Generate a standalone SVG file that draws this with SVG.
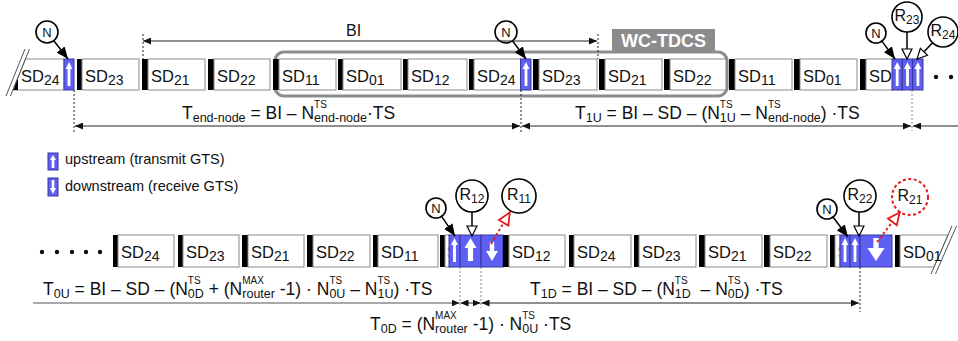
<svg xmlns="http://www.w3.org/2000/svg" width="958" height="341" viewBox="0 0 958 341">
<style>
text{font-family:"Liberation Sans",Arial,sans-serif;fill:#111}
.box{fill:#fff;stroke:#8a8a8a;stroke-width:1}
.bar{fill:#000}
.gts{fill:#5f5ff4;stroke:#36369c;stroke-width:1}
.wa{fill:#fff}
.sd{font-size:16.5px}
.ss{font-size:14px}
.eq{font-size:17.5px}
.sb{font-size:12.5px}
.sp{font-size:10px}
.lg{font-size:14.5px}
.circ{fill:#fff;stroke:#000;stroke-width:1.6}
.nt{font-size:13px;text-anchor:middle}
.rt{font-size:16px;text-anchor:middle}
.dim{stroke:#222;stroke-width:1;fill:none}
.dimg{stroke:#8c8c8c;stroke-width:1.6;fill:none}
.ext{stroke:#222;stroke-width:1;stroke-dasharray:2 2;fill:none}
.extg{stroke:#888;stroke-width:1;stroke-dasharray:2 2;fill:none}
.con{stroke:#000;stroke-width:1.5;fill:none}
.red{stroke:#e21b1b;stroke-width:2;stroke-dasharray:2.5 2.5;fill:none}
.slash{stroke:#555;stroke-width:1;fill:none}
</style>
<defs>
<marker id="dh" viewBox="0 0 8 7" refX="8" refY="3.5" markerWidth="8" markerHeight="7" markerUnits="userSpaceOnUse" orient="auto-start-reverse"><path d="M0,0L8,3.5L0,7z" fill="#111"/></marker>
<marker id="nh" viewBox="0 0 12 10" refX="12" refY="5" markerWidth="12" markerHeight="10" markerUnits="userSpaceOnUse" orient="auto"><path d="M0,0L12,5L0,10z" fill="#000"/></marker>
<marker id="oh" viewBox="0 0 12 12" refX="11" refY="6" markerWidth="12" markerHeight="12" markerUnits="userSpaceOnUse" orient="auto"><path d="M1,1L11,6L1,11z" fill="#fff" stroke="#000" stroke-width="1.2"/></marker>
<marker id="rh" viewBox="0 0 15 14" refX="14" refY="7" markerWidth="15" markerHeight="14" markerUnits="userSpaceOnUse" orient="auto"><path d="M1.5,1.5L13.5,7L1.5,12.5z" fill="#fff" stroke="#e21b1b" stroke-width="1.8"/></marker>
<path id="upT" class="wa" d="M0,0L3.5,7L1.4,7L1.4,24L-1.4,24L-1.4,7L-3.5,7Z"/>
<path id="upS" class="wa" d="M0,0L3,5L1.3,5L1.3,13L-1.3,13L-1.3,5L-3,5Z"/>
<path id="downS" class="wa" d="M-1.3,0L1.3,0L1.3,8L3,8L0,14L-3,8L-1.3,8Z"/>
<path id="upB" class="wa" d="M0,0L6,10L2.6,10L2.6,23L-2.6,23L-2.6,10L-6,10Z"/>
<path id="downM" class="wa" d="M-2.2,0L2.2,0L2.2,9L6,9L0,19L-6,9L-2.2,9Z"/>
<path id="downL" class="wa" d="M-2.6,0L2.6,0L2.6,10L8.5,10L0,23L-8.5,10L-2.6,10Z"/>
</defs>

<!-- WC-TDCS frame -->
<g id="wc-tdcs">
<rect x="275" y="52" width="452" height="44" rx="9" fill="none" stroke="#8c8c8c" stroke-width="3.2"/>
<rect x="612" y="29" width="103" height="24" fill="#8c8c8c"/>
<text x="663.5" y="47" font-size="18" font-weight="bold" text-anchor="middle" style="fill:#fff">WC-TDCS</text>
</g>

<!-- top row -->
<g id="top-row">
<g id="t-sd24a">
<polygon class="box" points="25.4,59 64,59 64,90 13,90"/>
<polygon class="bar" points="13,90 18,90 18,77.5"/>
<line class="slash" x1="25" y1="49" x2="6" y2="96"/>
<line class="slash" x1="29.5" y1="49" x2="10.5" y2="96"/>
<text class="sd" x="21" y="82">SD<tspan class="ss" dy="2.5">24</tspan></text>
</g>
<g id="t-gts1"><rect class="gts" x="64" y="59" width="10" height="31"/><use href="#upT" x="69" y="62"/></g>
<g id="t-sd23a"><rect class="bar" x="77" y="59" width="5" height="31"/><rect class="box" x="82" y="59" width="57" height="31"/><text class="sd" x="85" y="82">SD<tspan class="ss" dy="2.5">23</tspan></text></g>
<g id="t-sd21a"><rect class="bar" x="142" y="59" width="6" height="31"/><rect class="box" x="148" y="59" width="57" height="31"/><text class="sd" x="151" y="82">SD<tspan class="ss" dy="2.5">21</tspan></text></g>
<g id="t-sd22a"><rect class="bar" x="208" y="59" width="6" height="31"/><rect class="box" x="214" y="59" width="56" height="31"/><text class="sd" x="217" y="82">SD<tspan class="ss" dy="2.5">22</tspan></text></g>
<g id="t-sd11a"><rect class="bar" x="273" y="59" width="6" height="31"/><rect class="box" x="279" y="59" width="57" height="31"/><text class="sd" x="282" y="82">SD<tspan class="ss" dy="2.5">11</tspan></text></g>
<g id="t-sd01a"><rect class="bar" x="338" y="59" width="5" height="31"/><rect class="box" x="343" y="59" width="58" height="31"/><text class="sd" x="346" y="82">SD<tspan class="ss" dy="2.5">01</tspan></text></g>
<g id="t-sd12a"><rect class="bar" x="403" y="59" width="5" height="31"/><rect class="box" x="408" y="59" width="59" height="31"/><text class="sd" x="411" y="82">SD<tspan class="ss" dy="2.5">12</tspan></text></g>
<g id="t-sd24b"><rect class="bar" x="469" y="59" width="5" height="31"/><rect class="box" x="474" y="59" width="46.5" height="31"/><text class="sd" x="477" y="82">SD<tspan class="ss" dy="2.5">24</tspan></text></g>
<g id="t-gts2"><rect class="gts" x="520.5" y="59" width="10.5" height="31"/><use href="#upT" x="526" y="62"/></g>
<g id="t-sd23b"><rect class="bar" x="533" y="59" width="6" height="31"/><rect class="box" x="539" y="59" width="58" height="31"/><text class="sd" x="542" y="82">SD<tspan class="ss" dy="2.5">23</tspan></text></g>
<g id="t-sd21b"><rect class="bar" x="599" y="59" width="6" height="31"/><rect class="box" x="605" y="59" width="57" height="31"/><text class="sd" x="608" y="82">SD<tspan class="ss" dy="2.5">21</tspan></text></g>
<g id="t-sd22b"><rect class="bar" x="664" y="59" width="6" height="31"/><rect class="box" x="670" y="59" width="56" height="31"/><text class="sd" x="673" y="82">SD<tspan class="ss" dy="2.5">22</tspan></text></g>
<g id="t-sd11b"><rect class="bar" x="729" y="59" width="6" height="31"/><rect class="box" x="735" y="59" width="57" height="31"/><text class="sd" x="738" y="82">SD<tspan class="ss" dy="2.5">11</tspan></text></g>
<g id="t-sd01b"><rect class="bar" x="794" y="59" width="6" height="31"/><rect class="box" x="800" y="59" width="57" height="31"/><text class="sd" x="803" y="82">SD<tspan class="ss" dy="2.5">01</tspan></text></g>
<g id="t-sdc"><rect class="bar" x="860" y="59" width="6" height="31"/><rect class="box" x="866" y="59" width="27" height="31"/><text class="sd" x="869" y="82">SD</text></g>
<g id="t-gts3">
<rect class="gts" x="892" y="59" width="10.3" height="31"/><rect class="gts" x="902.3" y="59" width="10.4" height="31"/><rect class="gts" x="912.7" y="59" width="10.3" height="31"/>
<use href="#upT" x="897.2" y="62"/><use href="#upT" x="907.5" y="62"/><use href="#upT" x="917.9" y="62"/>
</g>
<g id="t-more"><circle cx="936" cy="77" r="2.2" fill="#111"/><circle cx="951" cy="77" r="2.2" fill="#111"/></g>
</g>

<!-- legend -->
<g id="legend">
<g id="legend-up"><rect class="gts" x="48" y="153" width="10" height="17"/><use href="#upS" x="53" y="155"/><text class="lg" x="65" y="164">upstream (transmit GTS)</text></g>
<g id="legend-down"><rect class="gts" x="48" y="178" width="10" height="18"/><use href="#downS" x="53" y="180"/><text class="lg" x="65" y="191">downstream (receive GTS)</text></g>
</g>

<!-- bottom row -->
<g id="bottom-row">
<g id="b-more"><circle cx="42" cy="252" r="2.2" fill="#111"/><circle cx="57" cy="252" r="2.2" fill="#111"/><circle cx="72" cy="252" r="2.2" fill="#111"/><circle cx="86" cy="252" r="2.2" fill="#111"/><circle cx="100" cy="252" r="2.2" fill="#111"/></g>
<g id="b-sd24a"><rect class="bar" x="113" y="235" width="5" height="32"/><rect class="box" x="118" y="235" width="56" height="32"/><text class="sd" x="121" y="258">SD<tspan class="ss" dy="2.5">24</tspan></text></g>
<g id="b-sd23a"><rect class="bar" x="178" y="235" width="5" height="32"/><rect class="box" x="183" y="235" width="56" height="32"/><text class="sd" x="186" y="258">SD<tspan class="ss" dy="2.5">23</tspan></text></g>
<g id="b-sd21a"><rect class="bar" x="242" y="235" width="6" height="32"/><rect class="box" x="248" y="235" width="56" height="32"/><text class="sd" x="251" y="258">SD<tspan class="ss" dy="2.5">21</tspan></text></g>
<g id="b-sd22a"><rect class="bar" x="307" y="235" width="6" height="32"/><rect class="box" x="313" y="235" width="57" height="32"/><text class="sd" x="316" y="258">SD<tspan class="ss" dy="2.5">22</tspan></text></g>
<g id="b-sd11a"><rect class="bar" x="373" y="235" width="5" height="32"/><rect class="box" x="378" y="235" width="60" height="32"/><text class="sd" x="381" y="258">SD<tspan class="ss" dy="2.5">11</tspan></text></g>
<g id="b-sdc1"><rect class="bar" x="440" y="235" width="5" height="32"/><rect class="box" x="445" y="235" width="5" height="32"/><text class="sd" x="446.5" y="258" style="fill:#aaa">S</text></g>
<g id="b-gts1">
<rect class="gts" x="449" y="235" width="11" height="32"/><rect class="gts" x="460" y="235" width="21" height="32"/><rect class="gts" x="481" y="235" width="22" height="32"/>
<use href="#upT" x="454.5" y="238"/><use href="#upB" x="470.5" y="238"/><use href="#downM" x="492" y="242"/>
</g>
<g id="b-sd12a"><rect class="bar" x="503" y="235" width="6" height="32"/><rect class="box" x="509" y="235" width="56" height="32"/><text class="sd" x="512" y="258">SD<tspan class="ss" dy="2.5">12</tspan></text></g>
<g id="b-sd24b"><rect class="bar" x="569" y="235" width="5" height="32"/><rect class="box" x="574" y="235" width="57" height="32"/><text class="sd" x="577" y="258">SD<tspan class="ss" dy="2.5">24</tspan></text></g>
<g id="b-sd23b"><rect class="bar" x="634" y="235" width="5" height="32"/><rect class="box" x="639" y="235" width="57" height="32"/><text class="sd" x="642" y="258">SD<tspan class="ss" dy="2.5">23</tspan></text></g>
<g id="b-sd21b"><rect class="bar" x="699" y="235" width="6" height="32"/><rect class="box" x="705" y="235" width="57" height="32"/><text class="sd" x="708" y="258">SD<tspan class="ss" dy="2.5">21</tspan></text></g>
<g id="b-sd22b"><rect class="bar" x="764" y="235" width="6" height="32"/><rect class="box" x="770" y="235" width="57" height="32"/><text class="sd" x="773" y="258">SD<tspan class="ss" dy="2.5">22</tspan></text></g>
<g id="b-sdc2"><rect class="bar" x="830" y="235" width="5" height="32"/><rect class="box" x="835" y="235" width="5" height="32"/><text class="sd" x="837" y="258" style="fill:#aaa">S</text></g>
<g id="b-gts2">
<rect class="gts" x="840" y="235" width="10" height="32"/><rect class="gts" x="850" y="235" width="10" height="32"/><rect class="gts" x="860" y="235" width="32" height="32"/>
<use href="#upT" x="845" y="238"/><use href="#upT" x="855" y="238"/><use href="#downL" x="876" y="238"/>
</g>
<g id="b-sd01">
<rect class="bar" x="895" y="235" width="5" height="32"/>
<polygon class="box" points="900,235 948,235 934,267 900,267"/>
<line class="slash" x1="952" y1="226" x2="931" y2="274"/>
<line class="slash" x1="956.5" y1="226" x2="935.5" y2="274"/>
<text class="sd" x="903" y="258">SD<tspan class="ss" dy="2.5">01</tspan></text>
</g>
</g>

<!-- node circles -->
<g id="n-top1"><circle class="circ" cx="47" cy="32" r="11"/><text class="nt" x="47" y="36.5">N</text></g>
<g id="n-top2"><circle class="circ" cx="506" cy="32" r="11"/><text class="nt" x="506" y="36.5">N</text></g>
<g id="n-top3"><circle class="circ" cx="876" cy="33" r="10"/><text class="nt" x="876" y="37.5">N</text></g>
<g id="r23"><circle class="circ" cx="907" cy="17" r="15"/><text class="rt" x="907" y="21">R<tspan font-size="12" dy="3">23</tspan></text></g>
<g id="r24"><circle class="circ" cx="943" cy="32" r="15"/><text class="rt" x="943" y="36">R<tspan font-size="12" dy="3">24</tspan></text></g>
<g id="n-bot1"><circle class="circ" cx="436" cy="208" r="10"/><text class="nt" x="436" y="212.5">N</text></g>
<g id="r12"><circle class="circ" cx="472" cy="196" r="16"/><text class="rt" x="472" y="200">R<tspan font-size="12" dy="3">12</tspan></text></g>
<g id="r11"><circle class="circ" cx="519" cy="196" r="17"/><text class="rt" x="519" y="200">R<tspan font-size="12" dy="3">11</tspan></text></g>
<g id="n-bot2"><circle class="circ" cx="827" cy="209" r="10"/><text class="nt" x="827" y="213.5">N</text></g>
<g id="r22"><circle class="circ" cx="860" cy="196" r="16"/><text class="rt" x="860" y="200">R<tspan font-size="12" dy="3">22</tspan></text></g>
<g id="r21"><circle cx="910" cy="197" r="18" fill="#fff" stroke="#e21b1b" stroke-width="2" stroke-dasharray="3 2.5"/><text class="rt" x="910" y="201">R<tspan font-size="12" dy="3">21</tspan></text></g>

<!-- connectors -->
<g id="connectors">
<line class="con" x1="53.8" y1="40.7" x2="68" y2="59" marker-end="url(#nh)"/>
<line class="con" x1="512.5" y1="40.8" x2="526" y2="59" marker-end="url(#nh)"/>
<line class="con" x1="881.9" y1="41.1" x2="895" y2="59" marker-end="url(#nh)"/>
<line class="con" x1="907" y1="32" x2="907" y2="59" marker-end="url(#oh)"/>
<line class="con" x1="932.6" y1="42.8" x2="917" y2="59" marker-end="url(#oh)"/>
<line class="con" x1="441.6" y1="216.3" x2="455" y2="236" marker-end="url(#nh)"/>
<line class="con" x1="472" y1="212" x2="472" y2="236" marker-end="url(#oh)"/>
<line class="red" x1="491" y1="244" x2="510" y2="212" marker-end="url(#rh)"/>
<line class="con" x1="833" y1="217" x2="848" y2="237" marker-end="url(#nh)"/>
<line class="con" x1="859" y1="212" x2="859" y2="236" marker-end="url(#oh)"/>
<line class="red" x1="877" y1="242" x2="900" y2="212" marker-end="url(#rh)"/>

<!-- extension lines -->
<line class="ext" x1="143" y1="34" x2="143" y2="59"/>
<line class="ext" x1="598" y1="34" x2="598" y2="59"/>
<line class="ext" x1="74" y1="90" x2="74" y2="132"/>
<line class="ext" x1="521" y1="90" x2="521" y2="132"/>
<line class="extg" x1="912" y1="90" x2="912" y2="131"/>
<line class="extg" x1="460" y1="267" x2="460" y2="308"/>
<line class="extg" x1="481" y1="267" x2="481" y2="308"/>
<line class="ext" x1="860" y1="267" x2="860" y2="312"/>

<!-- dimension lines -->
<line class="dim" x1="143" y1="41" x2="597" y2="41" marker-start="url(#dh)" marker-end="url(#dh)"/>
<line class="dim" x1="75" y1="126" x2="520" y2="126" marker-start="url(#dh)" marker-end="url(#dh)"/>
<line class="dim" x1="522" y1="126" x2="911" y2="126" marker-start="url(#dh)" marker-end="url(#dh)"/>
<line class="dim" x1="913" y1="126" x2="958" y2="126" marker-start="url(#dh)"/>
<line class="dimg" x1="33" y1="303" x2="459.5" y2="303" marker-end="url(#dh)"/>
<line class="dim" x1="460.5" y1="303" x2="480.5" y2="303" marker-start="url(#dh)" marker-end="url(#dh)"/>
<line class="dim" x1="481.5" y1="303" x2="859" y2="303" marker-start="url(#dh)" marker-end="url(#dh)"/>
</g>

<!-- labels -->
<g id="labels">
<text x="346" y="36" font-size="16">BI</text>
<text class="eq" x="182" y="119">T<tspan class="sb" dy="3">end-node</tspan><tspan dy="-3"> = BI – N</tspan><tspan class="sp" dy="-11">TS</tspan><tspan class="sb" dx="-12.78" dy="14">end-node</tspan><tspan dy="-3">·TS</tspan></text>
<text class="eq" x="575" y="119">T<tspan class="sb" dy="3">1U</tspan><tspan dy="-3"> = BI – SD – (N</tspan><tspan class="sp" dy="-11">TS</tspan><tspan class="sb" dx="-12.78" dy="14">1U</tspan><tspan dy="-3"> – N</tspan><tspan class="sp" dy="-11">TS</tspan><tspan class="sb" dx="-12.78" dy="14">end-node</tspan><tspan dy="-3">) ·TS</tspan></text>
<text class="eq" x="43" y="295">T<tspan class="sb" dy="3">0U</tspan><tspan dy="-3"> = BI – SD – (N</tspan><tspan class="sp" dy="-11">TS</tspan><tspan class="sb" dx="-12.78" dy="14">0D</tspan><tspan dy="-3"> + (N</tspan><tspan class="sp" dy="-11">MAX</tspan><tspan class="sb" dx="-21.67" dy="14">router</tspan><tspan dy="-3"> -1) · N</tspan><tspan class="sp" dy="-11">TS</tspan><tspan class="sb" dx="-12.78" dy="14">0U</tspan><tspan dy="-3"> – N</tspan><tspan class="sp" dy="-11">TS</tspan><tspan class="sb" dx="-12.78" dy="14">1U</tspan><tspan dy="-3">) ·TS</tspan></text>
<text class="eq" x="530" y="295">T<tspan class="sb" dy="3">1D</tspan><tspan dy="-3"> = BI – SD – (N</tspan><tspan class="sp" dy="-11">TS</tspan><tspan class="sb" dx="-12.78" dy="14">1D</tspan><tspan dy="-3" dx="4.9"> – N</tspan><tspan class="sp" dy="-11">TS</tspan><tspan class="sb" dx="-12.78" dy="14">0D</tspan><tspan dy="-3">) ·TS</tspan></text>
<text class="eq" x="370" y="330">T<tspan class="sb" dy="3">0D</tspan><tspan dy="-3"> = (N</tspan><tspan class="sp" dy="-11">MAX</tspan><tspan class="sb" dx="-21.67" dy="14">router</tspan><tspan dy="-3"> -1) · N</tspan><tspan class="sp" dy="-11">TS</tspan><tspan class="sb" dx="-12.78" dy="14">0U</tspan><tspan dy="-3"> ·TS</tspan></text>
</g>
</svg>
